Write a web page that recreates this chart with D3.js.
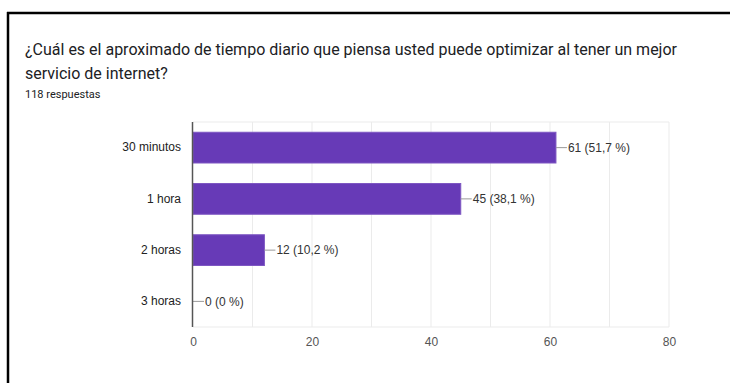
<!DOCTYPE html>
<html>
<head>
<meta charset="utf-8">
<script src="https://cdn.jsdelivr.net/npm/d3@7"></script>
<style>
  html, body { margin: 0; padding: 0; background: #fff; }
  svg { display: block; font-family: Roboto, Arial, sans-serif; }
</style>
</head>
<body>
<svg id="chart" width="730" height="383"></svg>
<script>
// Survey answers
const categories = ["30 minutos", "1 hora", "2 horas", "3 horas"];
const counts = [61, 45, 12, 0];
const percents = ["51,7", "38,1", "10,2", "0"];
const xTicks = [0, 20, 40, 60, 80];
const gridValues = [10, 20, 30, 40, 50, 60, 70, 80];
const titleLines = [
  "¿Cuál es el aproximado de tiempo diario que piensa usted puede optimizar al tener un mejor",
  "servicio de internet?"
];
const subtitle = "118 respuestas";

const chartFont = "Arial, 'Liberation Sans', sans-serif";
const svg = d3.select("#chart");

// Card frame (top and left edges)
svg.append("line").attr("x1", 7).attr("x2", 730).attr("y1", 13).attr("y2", 13)
  .attr("stroke", "#000").attr("stroke-width", 2.5);
svg.append("line").attr("x1", 8).attr("x2", 8).attr("y1", 12).attr("y2", 383)
  .attr("stroke", "#000").attr("stroke-width", 2.5);

// Heading
svg.selectAll("text.title").data(titleLines).join("text")
  .attr("class", "title")
  .attr("x", 25).attr("y", (d, i) => 55 + i * 24)
  .attr("font-size", 16).attr("fill", "#202124")
  .text(d => d);
svg.append("text").attr("x", 25).attr("y", 98)
  .attr("font-size", 11).attr("fill", "#202124").text(subtitle);

// Plot area
const plot = { left: 193, right: 669, top: 122, bottom: 327 };
const x = d3.scaleLinear().domain([0, 80]).range([plot.left, plot.right]);
const y = d3.scaleBand().domain(categories).range([plot.top, plot.bottom])
  .paddingInner(0.4).paddingOuter(0.2);

// Gridlines
const g = svg.append("g");
g.selectAll("line.grid").data(gridValues).join("line")
  .attr("class", "grid")
  .attr("x1", d => x(d)).attr("x2", d => x(d))
  .attr("y1", plot.top).attr("y2", plot.bottom)
  .attr("stroke", "#ebebeb").attr("stroke-width", 1);
g.append("line").attr("x1", plot.left).attr("x2", plot.right)
  .attr("y1", plot.top).attr("y2", plot.top).attr("stroke", "#ebebeb");
g.append("line").attr("x1", plot.left).attr("x2", plot.right)
  .attr("y1", plot.bottom).attr("y2", plot.bottom).attr("stroke", "#ebebeb");

// Bars
const rows = categories.map((c, i) => ({ cat: c, value: counts[i], pct: percents[i] }));
g.selectAll("rect.bar").data(rows.filter(d => d.value > 0)).join("rect")
  .attr("class", "bar")
  .attr("x", x(0)).attr("y", d => y(d.cat))
  .attr("width", d => x(d.value) - x(0)).attr("height", y.bandwidth())
  .attr("fill", "#673ab7").attr("stroke", "#7e57c2").attr("stroke-width", 1);

// Value annotations
g.selectAll("line.lead").data(rows).join("line")
  .attr("class", "lead")
  .attr("x1", d => x(d.value)).attr("x2", d => x(d.value) + 11)
  .attr("y1", d => y(d.cat) + y.bandwidth() / 2).attr("y2", d => y(d.cat) + y.bandwidth() / 2)
  .attr("stroke", "#999").attr("stroke-width", 1);
g.selectAll("text.val").data(rows).join("text")
  .attr("class", "val")
  .attr("x", d => x(d.value) + 12)
  .attr("y", d => y(d.cat) + y.bandwidth() / 2)
  .attr("dy", "0.35em")
  .attr("font-size", 12).attr("fill", "#333").attr("font-family", chartFont)
  .text(d => `${d.value} (${d.pct} %)`);

// Category axis
const yAxis = d3.axisLeft(y).tickSize(0).tickPadding(12);
const ya = svg.append("g").attr("transform", `translate(${plot.left},0)`).call(yAxis);
ya.select(".domain").remove();
ya.selectAll("text").attr("font-size", 12).attr("fill", "#222").attr("font-family", chartFont);
svg.append("line").attr("x1", plot.left - 0.5).attr("x2", plot.left - 0.5)
  .attr("y1", plot.top).attr("y2", plot.bottom)
  .attr("stroke", "#555").attr("stroke-width", 1.5);

// Value axis labels
const xAxis = d3.axisBottom(x).tickValues(xTicks).tickSize(0).tickPadding(10);
const xa = svg.append("g").attr("transform", `translate(0,${plot.bottom})`).call(xAxis);
xa.select(".domain").remove();
xa.selectAll("text").attr("font-size", 12).attr("fill", "#555").attr("font-family", chartFont);
</script>
</body>
</html>
